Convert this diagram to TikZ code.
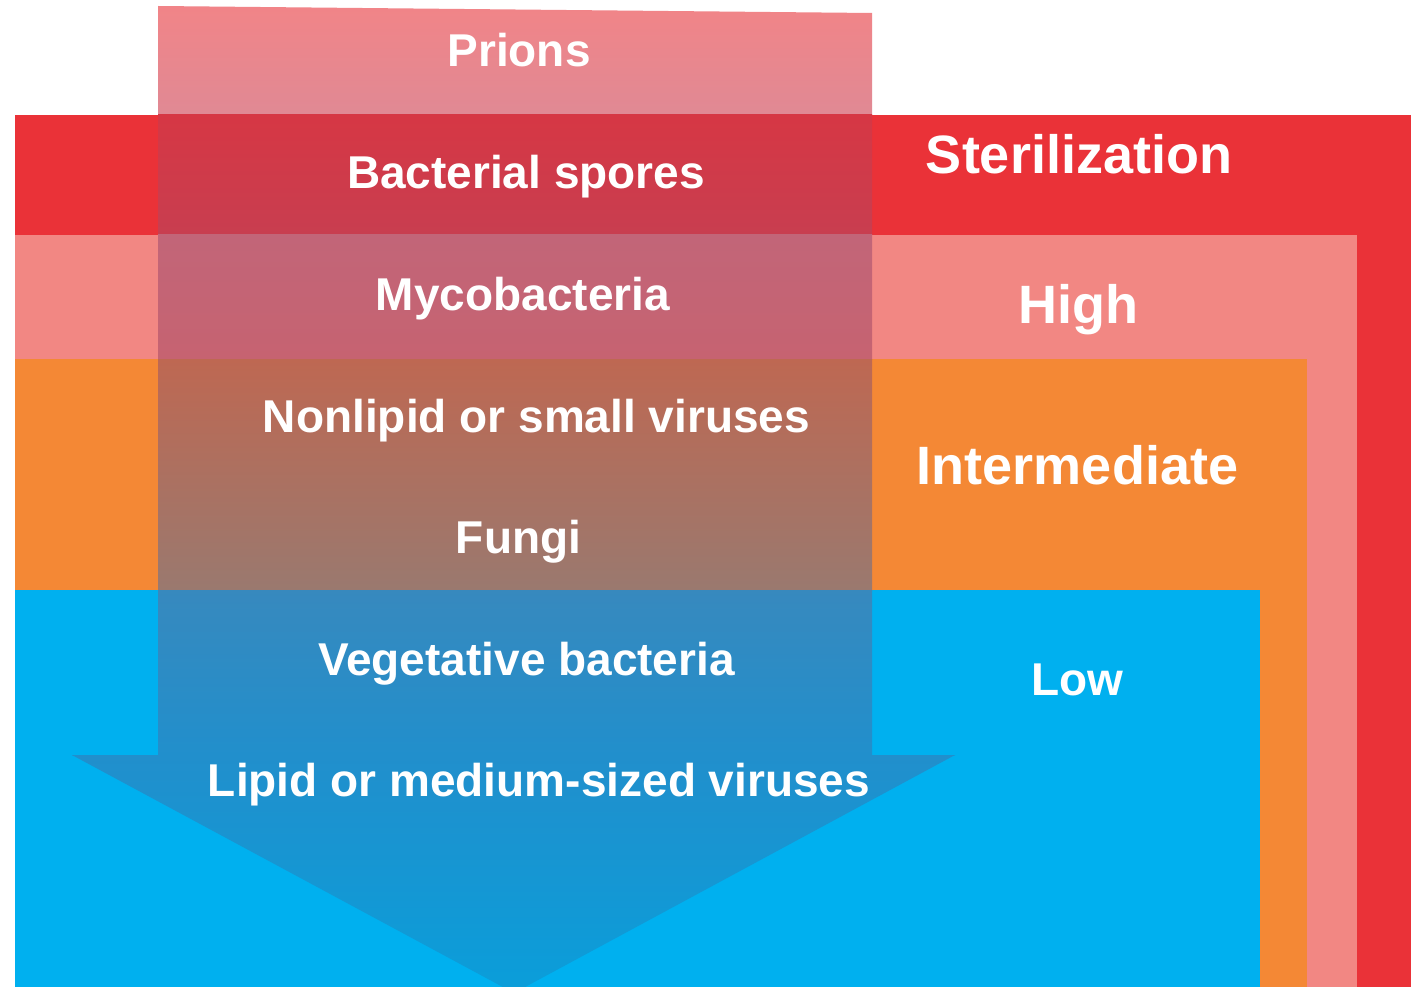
\documentclass[tikz,border=0pt]{standalone}
\usepackage{fontspec}
\setmainfont{Liberation Sans}
\begin{document}
\begin{tikzpicture}[x=1pt,y=-1pt]
\definecolor{cRed}{RGB}{234,50,56}
\definecolor{cPink}{RGB}{242,135,131}
\definecolor{cOrange}{RGB}{244,136,53}
\definecolor{cBlue}{RGB}{0,176,239}
\definecolor{aWhiteT}{RGB}{242,132,135}
\definecolor{aWhiteB}{RGB}{224,137,148}
\definecolor{aRedT}{RGB}{214,55,68}
\definecolor{aRedB}{RGB}{200,62,80}
\definecolor{aPinkT}{RGB}{194,101,120}
\definecolor{aPinkB}{RGB}{198,99,113}
\definecolor{aOrT}{RGB}{190,104,82}
\definecolor{aOrB}{RGB}{154,121,111}
\definecolor{aBlT}{RGB}{55,137,190}
\definecolor{aBlM}{RGB}{33,143,204}
\definecolor{aBlB}{RGB}{10,158,218}
\tikzset{
  lab/.style={text=white, inner sep=0pt, anchor=base, font=\bfseries\fontsize{46}{50}\selectfont},
  big/.style={text=white, inner sep=0pt, anchor=base, font=\bfseries\fontsize{54}{60}\selectfont}
}
\useasboundingbox (0,0) rectangle (1411,987);
\fill[white] (0,0) rectangle (1411,987);
% levels
\fill[cRed] (15,115) rectangle (1411,987);
\fill[cPink] (15,235) rectangle (1357,987);
\fill[cOrange] (15,359) rectangle (1307,987);
\fill[cBlue] (15,590) rectangle (1260,987);
% arrow
\begin{scope}
\clip (158,6) -- (872,13) -- (872,755) -- (955,755) -- (514,993) -- (72,755) -- (158,755) -- cycle;
\shade[top color=aWhiteT, bottom color=aWhiteB] (0,0) rectangle (1411,115);
\shade[top color=aRedT, bottom color=aRedB] (0,115) rectangle (1411,235);
\shade[top color=aPinkT, bottom color=aPinkB] (0,235) rectangle (1411,359);
\shade[top color=aOrT, bottom color=aOrB] (0,359) rectangle (1411,590);
\shade[top color=aBlT, bottom color=aBlM] (0,590) rectangle (1411,755);
\shade[top color=aBlM, bottom color=aBlB] (0,755) rectangle (1411,995);
\end{scope}
% arrow labels
\node[lab] (prions) at (519,67) {Prions};
\node[lab] (spores) at (526,189) {Bacterial spores};
\node[lab] (myco) at (523,310) {Mycobacteria};
\node[lab] (nonlipid) at (536.5,432) {Nonlipid or small viruses};
\node[lab] (fungi) at (518.5,553) {Fungi};
\node[lab] (veg) at (526.5,675) {Vegetative bacteria};
\node[lab] (lipid) at (539,796) {Lipid or medium-sized viruses};
% level labels
\node[big] (steril) at (1079,174) {Sterilization};
\node[big] (high) at (1078,323) {High};
\node[big] (inter) at (1077.5,484) {Intermediate};
\node[lab] (low) at (1077,695) {Low};
\end{tikzpicture}
\end{document}
